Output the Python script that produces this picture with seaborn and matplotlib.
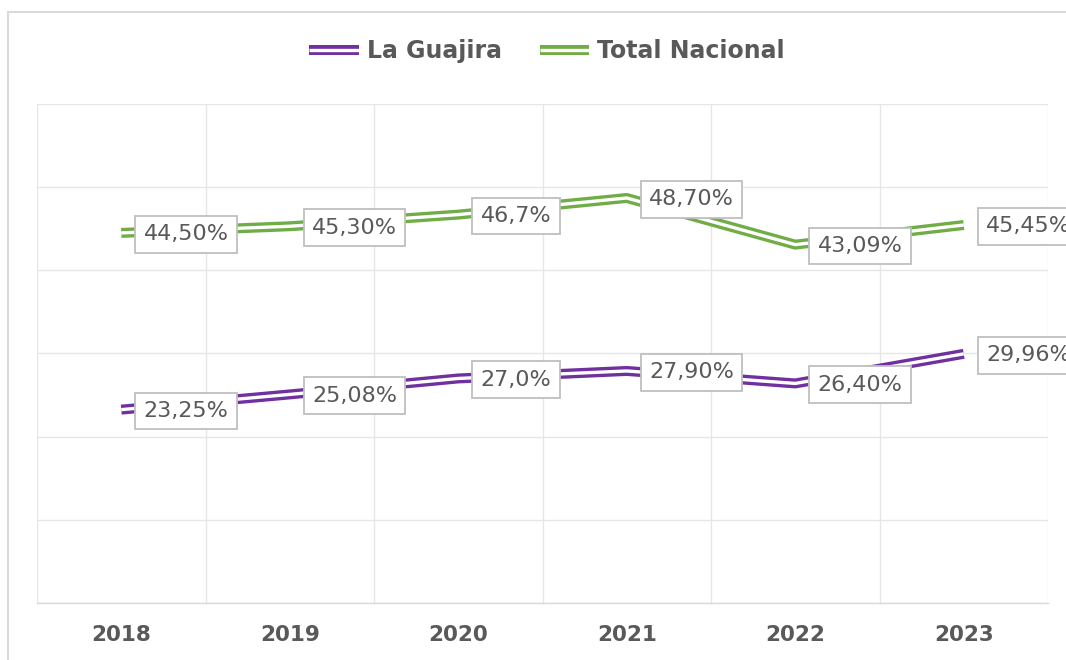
import matplotlib
matplotlib.use("Agg")
import matplotlib.pyplot as plt
import matplotlib.patheffects as pe
from matplotlib.lines import Line2D
import pandas as pd
import seaborn as sns

years = ["2018", "2019", "2020", "2021", "2022", "2023"]
series = ["La Guajira", "Total Nacional"]
guajira = [23.25, 25.08, 27.0, 27.9, 26.4, 29.96]
nacional = [44.5, 45.3, 46.7, 48.7, 43.09, 45.45]
guajira_lbl = ["23,25%", "25,08%", "27,0%", "27,90%", "26,40%", "29,96%"]
nacional_lbl = ["44,50%", "45,30%", "46,7%", "48,70%", "43,09%", "45,45%"]
colors = {"La Guajira": "#7030A0", "Total Nacional": "#70AD47"}

TXT = "#595959"
GRID = "#e6e6e6"
W = 1066
H = 660

df = pd.DataFrame({
    "year": years * 2,
    "serie": [series[0]] * len(years) + [series[1]] * len(years),
    "valor": guajira + nacional,
})

sns.set_theme(style="white")
plt.rcParams["font.family"] = ["DejaVu Sans"]

fig = plt.figure(figsize=(W / 100, H / 100), dpi=100)
ax = fig.add_axes([37 / W, 1 - 603 / H, (1048 - 37) / W, (603 - 104) / H])

sns.lineplot(data=df, x="year", y="valor", hue="serie", hue_order=series,
             palette=colors, linewidth=7.2, legend=False, ax=ax, sort=False)

double = [pe.Normal(), pe.Stroke(linewidth=2.4, foreground="white")]
for ln in ax.lines:
    ln.set_solid_capstyle("butt")
    ln.set_path_effects(double)

ax.set_xlim(-0.5, len(years) - 0.5)
ax.set_ylim(0, 60)
ax.set_yticks(range(0, 61, 10))
ax.set_xticks(range(len(years)))
ax.set_xticks([i - 0.5 for i in range(len(years) + 1)], minor=True)
ax.set_xticklabels(years)
ax.grid(axis="y", which="major", color=GRID, lw=1)
ax.grid(axis="x", which="minor", color=GRID, lw=1)
ax.set_axisbelow(True)
ax.tick_params(axis="x", which="both", length=0, pad=16, labelsize=15.5,
               labelcolor=TXT)
ax.tick_params(axis="y", length=0, labelleft=False)
for lab in ax.get_xticklabels():
    lab.set_fontweight("bold")
ax.set_xlabel("")
ax.set_ylabel("")
for s in ["left", "right", "top"]:
    ax.spines[s].set_visible(False)
ax.spines["bottom"].set_color("#d9d9d9")
ax.spines["bottom"].set_linewidth(1)

box = dict(boxstyle="square,pad=0.38", fc="white", ec="#bfbfbf", lw=1.3)
for vals, lbls in [(guajira, guajira_lbl), (nacional, nacional_lbl)]:
    for i, (v, t) in enumerate(zip(vals, lbls)):
        ax.annotate(t, (i, v), xytext=(16, -1), textcoords="offset points",
                    ha="left", va="center", fontsize=16, color=TXT,
                    bbox=box, zorder=5, annotation_clip=False)

handles = [Line2D([], [], color=colors[s], lw=7.2, solid_capstyle="butt",
                  path_effects=double) for s in series]
fig.legend(handles, series, loc="center", bbox_to_anchor=(547 / W, 1 - 51 / H),
           ncol=2, frameon=False, prop={"weight": "bold", "size": 17},
           labelcolor=TXT, handlelength=2.1, handletextpad=0.35,
           columnspacing=1.6)

# borde exterior del grafico
fig.add_artist(Line2D([8 / W, 1], [1 - 12 / H] * 2, transform=fig.transFigure,
                      color="#d9d9d9", lw=1.5))
fig.add_artist(Line2D([8 / W] * 2, [0, 1 - 12 / H], transform=fig.transFigure,
                      color="#d9d9d9", lw=1.5))

fig.savefig("out.png", dpi=100)
plt.close(fig)
